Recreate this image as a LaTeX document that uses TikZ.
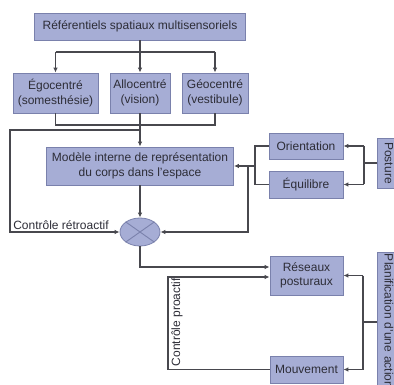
\documentclass[tikz,border=0pt]{standalone}
\usepackage{fontspec}
\setmainfont{Liberation Sans}
\usetikzlibrary{arrows.meta,shapes.geometric}

\definecolor{boxfill}{RGB}{166,173,213}
\definecolor{boxline}{RGB}{122,129,172}
\definecolor{wirecol}{RGB}{72,72,78}
\definecolor{ink}{RGB}{45,45,55}

\tikzset{
  bloc/.style={draw=boxline, fill=boxfill, line width=0.8pt, text=ink, align=center,
    inner sep=2pt, font=\fontsize{12}{14.5}\selectfont},
  wire/.style={draw=wirecol, line width=1.1pt},
  fleche/.style={wire, -{Latex[length=5pt,width=4.5pt]}},
  etiquette/.style={text=ink, inner sep=0pt, font=\fontsize{12}{14}\selectfont},
}

\begin{document}
\begin{tikzpicture}[x=1pt,y=-1pt]
  \useasboundingbox (0,0) rectangle (394,385);
  % Reference frames
  \node[bloc, minimum width=211, minimum height=27] (ref) at (140,26.5) {Référentiels spatiaux multisensoriels};
  \node[bloc, minimum width=85, minimum height=40] (ego) at (55.5,93) {Égocentré\\(somesthésie)};
  \node[bloc, minimum width=60, minimum height=40] (allo) at (140,93) {Allocentré\\(vision)};
  \node[bloc, minimum width=66, minimum height=40] (geo) at (215,93) {Géocentré\\(vestibule)};
  \node[bloc, minimum width=187, minimum height=38] (modele) at (140,166) {Modèle interne de représentation\\du corps dans l'espace};
  % Comparator
  \node[ellipse, draw=boxline, fill=boxfill, line width=0.8pt, minimum width=40, minimum height=28, inner sep=0pt] (comp) at (140,232) {};
  \draw[boxline, line width=0.9pt] (comp.north west) -- (comp.south east);
  \draw[boxline, line width=0.9pt] (comp.north east) -- (comp.south west);
  % Right-hand boxes
  \node[bloc, minimum width=74, minimum height=26] (orient) at (306,146) {Orientation};
  \node[bloc, minimum width=74, minimum height=27] (equil) at (306,184.5) {Équilibre};
  \node[bloc, rotate=-90, minimum width=50, minimum height=24] (posture) at (389,163) {Posture};
  \node[bloc, minimum width=73, minimum height=39] (reseaux) at (306.5,275.5) {Réseaux\\posturaux};
  \node[bloc, minimum width=73, minimum height=27] (mouv) at (306.5,369.5) {Mouvement};
  \node[bloc, rotate=-90, text width=146pt, align=left, minimum height=24] (planif) at (389,327) {Planification d'une action};
  % Labels
  \node[etiquette] (retro) at (61,225) {Contrôle rétroactif};
  \node[etiquette, rotate=90] (proact) at (177,322) {Contrôle proactif};
  % Top arrows
  \coordinate (haut) at (140,52);
  \draw[wire] (ref.south) -- (haut);
  \draw[wire] (haut -| ego.north) -- (haut -| geo.north);
  \draw[fleche] (haut -| ego.north) -- (ego.north);
  \draw[fleche] (haut) -- (allo.north);
  \draw[fleche] (haut -| geo.north) -- (geo.north);
  \coordinate (bas) at (140,125);
  \draw[wire] (ego.south) -- (ego.south |- bas) -- (geo.south |- bas) -- (geo.south);
  \draw[fleche] (allo.south) -- (modele.north);
  % Feedback loop
  \coordinate (retour) at (140,130);
  \draw[fleche] (retour) -- (10,130) |- (comp.west);
  \draw[fleche] (modele.south) -- (comp.north);
  % Orientation and balance
  \coordinate (jonc) at (255,166);
  \draw[wire] (orient.west) -| (jonc);
  \draw[wire] (equil.west) -| (jonc);
  \draw[fleche] (jonc) -- (modele.east);
  \draw[fleche] (248,166) |- (comp.east);
  \coordinate (pj) at (364,163);
  \draw[wire] (posture.south) -- (pj);
  \draw[wire] (pj |- orient.east) -- (pj |- equil.east);
  \draw[fleche] (pj |- orient.east) -- (orient.east);
  \draw[fleche] (pj |- equil.east) -- (equil.east);
  % Postural networks
  \coordinate (entree) at (267,267);
  \draw[fleche] (comp.south) |- (reseaux.west |- entree);
  \coordinate (proactif) at (168,277);
  \draw[fleche] (mouv.west) -| (proactif) -- (reseaux.west |- proactif);
  \coordinate (aj) at (363,322);
  \draw[wire] (planif.south |- aj) -- (aj);
  \draw[wire] (aj |- reseaux.east) -- (aj |- mouv.east);
  \draw[fleche] (aj |- reseaux.east) -- (reseaux.east);
  \draw[fleche] (aj |- mouv.east) -- (mouv.east);
\end{tikzpicture}
\end{document}
